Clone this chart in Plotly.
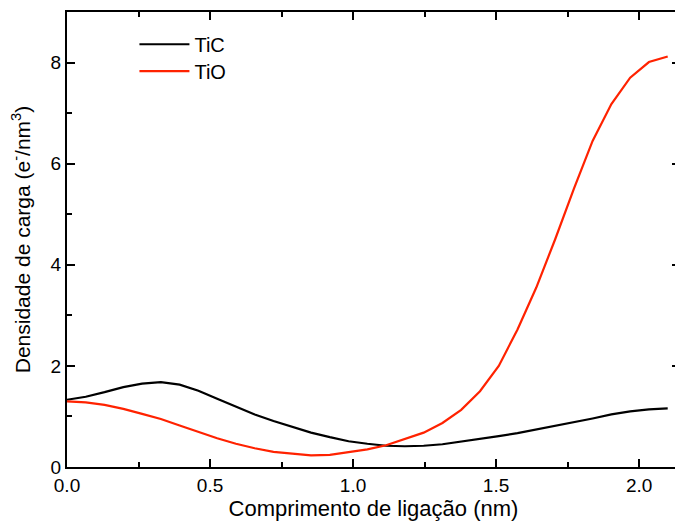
import plotly.graph_objects as go

# Bond length positions (nm)
bond_length = [0.0, 0.0656, 0.1313, 0.1969, 0.2625, 0.3281, 0.3938, 0.4594,
               0.525, 0.5906, 0.6563, 0.7219, 0.7875, 0.8531, 0.9188, 0.9844,
               1.05, 1.1156, 1.1813, 1.2469, 1.3125, 1.3781, 1.4438, 1.5094,
               1.575, 1.6406, 1.7063, 1.7719, 1.8375, 1.9031, 1.9688, 2.0344, 2.1]

# Charge density (e-/nm^3)
tic_density = [1.33, 1.39, 1.48, 1.58, 1.65, 1.68, 1.63, 1.51,
               1.35, 1.19, 1.04, 0.91, 0.79, 0.68, 0.59, 0.51,
               0.46, 0.42, 0.41, 0.42, 0.45, 0.50, 0.55, 0.61,
               0.67, 0.74, 0.81, 0.89, 0.96, 1.04, 1.10, 1.14, 1.16]

tio_density = [1.30, 1.28, 1.23, 1.15, 1.05, 0.95, 0.82, 0.69,
               0.57, 0.46, 0.37, 0.30, 0.26, 0.23, 0.24, 0.29,
               0.35, 0.43, 0.55, 0.68, 0.87, 1.13, 1.50, 2.00,
               2.72, 3.55, 4.50, 5.50, 6.45, 7.18, 7.70, 8.01, 8.12]

series_names = ["TiC", "TiO"]
x_tick_vals = [0.0, 0.5, 1.0, 1.5, 2.0]
x_tick_text = ["0.0", "0.5", "1.0", "1.5", "2.0"]
y_tick_vals = [0, 2, 4, 6, 8]
y_tick_text = ["0", "2", "4", "6", "8"]

FONT = "Liberation Sans, Arial, sans-serif"

fig = go.Figure()
fig.add_trace(go.Scatter(x=bond_length, y=tic_density, mode="lines", name=series_names[0],
                         line=dict(color="#000000", width=2.2), legend="legend"))
fig.add_trace(go.Scatter(x=bond_length, y=tio_density, mode="lines", name=series_names[1],
                         line=dict(color="#FF2200", width=2.2), legend="legend2"))

axis_common = dict(
    showline=True, linecolor="black", linewidth=2, mirror="allticks",
    ticks="inside", ticklen=8, tickwidth=1.5, tickcolor="black",
    showgrid=False, zeroline=False,
    tickfont=dict(family=FONT, size=19, color="black"),
)

fig.update_xaxes(range=[0, 2.143], tickvals=x_tick_vals, ticktext=x_tick_text,
                 minor=dict(ticks="inside", ticklen=5, tickwidth=1.5, tickcolor="black", dtick=0.25,
                            tick0=0, showgrid=False),
                 title=dict(text="Comprimento de ligação (nm)",
                            font=dict(family=FONT, size=22, color="black"), standoff=5),
                 automargin=False,
                 **axis_common)
fig.update_yaxes(range=[0, 9.0], tickvals=y_tick_vals, ticktext=y_tick_text,
                 minor=dict(ticks="inside", ticklen=5, tickwidth=1.5, tickcolor="black", dtick=1,
                            tick0=0, showgrid=False),
                 title=dict(text="Densidade de carga (e<sup>-</sup>/nm<sup>3</sup>)",
                            font=dict(family=FONT, size=21, color="black"), standoff=14),
                 automargin=False,
                 **axis_common)

legend_style = dict(xanchor="left", yanchor="top", bgcolor="rgba(0,0,0,0)",
                    font=dict(family=FONT, size=20, color="black"), itemwidth=50)

fig.update_layout(
    width=680, height=528,
    margin=dict(l=67, r=0, t=12, b=61, autoexpand=False),
    plot_bgcolor="white", paper_bgcolor="white",
    legend=dict(x=0.11, y=0.972, **legend_style),
    legend2=dict(x=0.11, y=0.913, **legend_style),
    showlegend=True,
)

fig.write_html("out.html")
